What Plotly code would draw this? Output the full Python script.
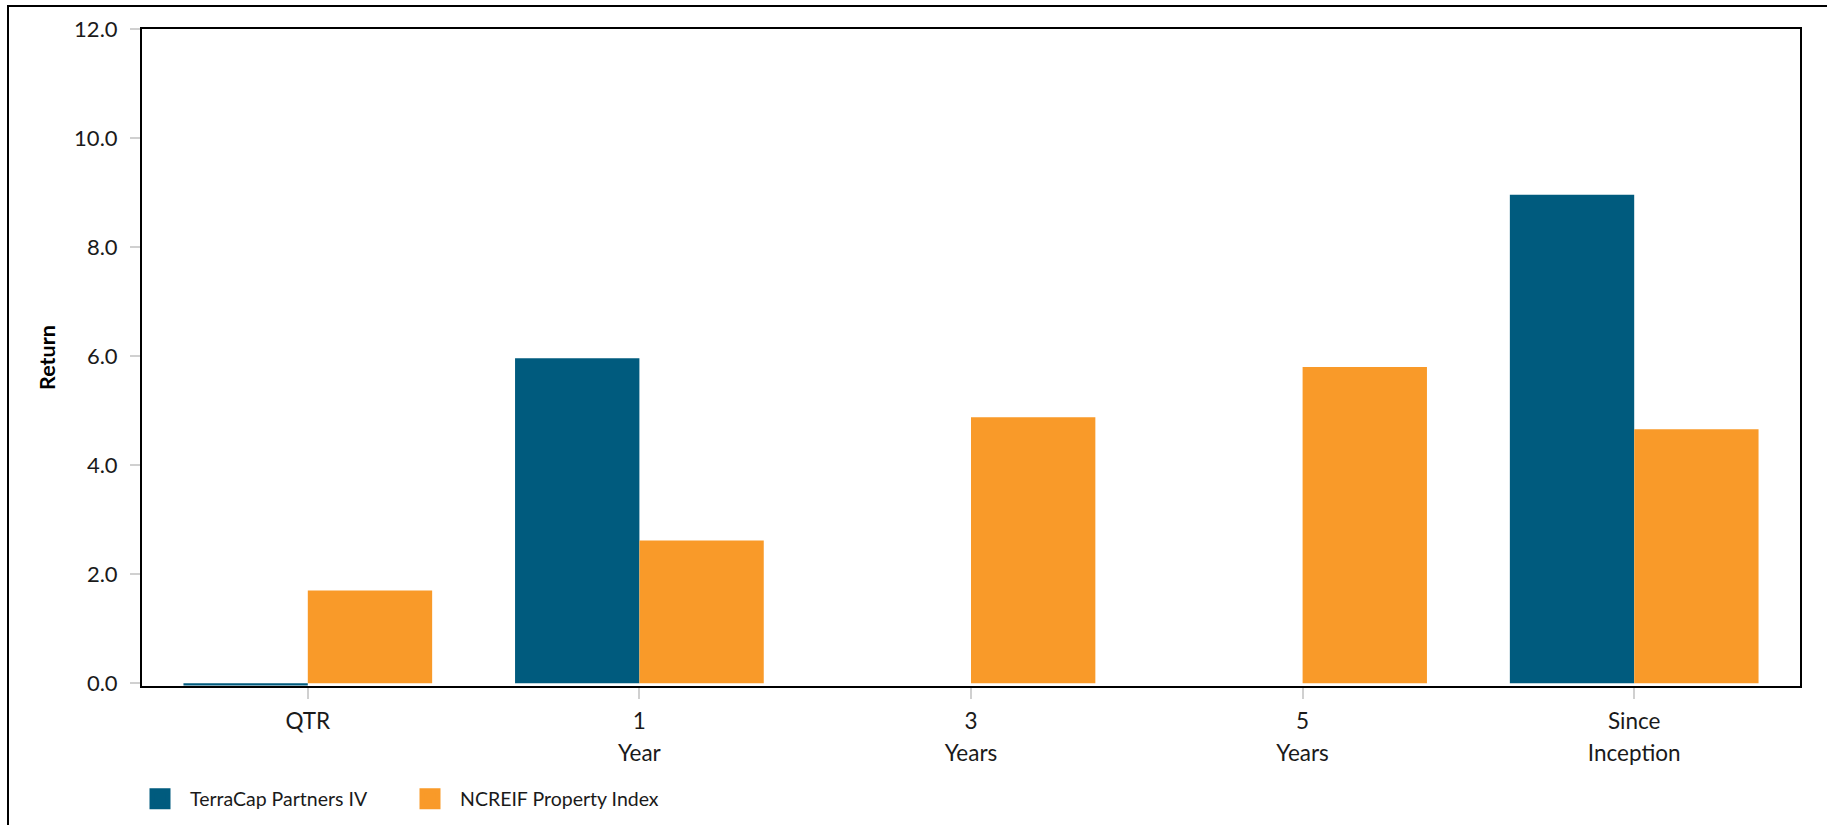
import plotly.graph_objects as go

categories = ["QTR", "1 Year", "3 Years", "5 Years", "Since Inception"]
tick_labels = ["QTR", "1<br>Year", "3<br>Years", "5<br>Years", "Since<br>Inception"]
terracap = [-0.04, 5.96, None, None, 8.96]
ncreif = [1.70, 2.62, 4.88, 5.80, 4.66]
series_names = ["TerraCap Partners IV", "NCREIF Property Index"]
colors = ["#005B7E", "#F99A29"]
y_ticks = [0, 2, 4, 6, 8, 10, 12]

FONT = "Lato"

def styled(label, size=22.5):
    return "<br>".join(f"<span style='font-size:{size}px'>{p}</span>" for p in label.split("<br>"))

fig = go.Figure()
for name, vals, col in zip(series_names, [terracap, ncreif], colors):
    fig.add_trace(go.Bar(x=categories, y=vals, name=name, marker=dict(color=col, line=dict(width=0)),
                         showlegend=False))
for name, col in zip(series_names, colors):
    fig.add_trace(go.Scatter(x=[None], y=[None], mode="markers", name=name,
                             marker=dict(symbol="square", size=16, color=col,
                                         line=dict(color=col, width=5))))

L, R, T, B = 142, 27, 29, 139
W, H = 1827, 825
pw, ph = W - L - R, H - T - B

fig.update_layout(
    width=W, height=H,
    margin=dict(l=L, r=R, t=T, b=B, pad=0, autoexpand=False),
    paper_bgcolor="white", plot_bgcolor="white",
    barmode="group", bargap=0.25, bargroupgap=0,
    font=dict(family=FONT, color="#1a1a1a"),
    showlegend=True,
    legend=dict(orientation="h", x=(130 - L) / pw, xanchor="left", y=(686 - 799) / ph, yanchor="middle",
                font=dict(size=19.5, family=FONT, color="#1a1a1a"),
                itemwidth=50, entrywidth=205, tracegroupgap=0, bgcolor="rgba(0,0,0,0)"),
    xaxis=dict(type="category", categoryorder="array", categoryarray=categories,
               tickvals=categories, ticktext=[styled(t) for t in tick_labels],
               tickfont=dict(size=24.6, family=FONT, color="#1a1a1a"),
               showline=True, linecolor="black", linewidth=2, mirror=True,
               ticks="outside", ticklen=11, tickcolor="#d0d0d0", tickwidth=2,
               showgrid=False, zeroline=False, automargin=False),
    yaxis=dict(range=[-0.05, 12], tickvals=y_ticks, tickformat=".1f",
               tickfont=dict(size=22, family=FONT, color="#1a1a1a"),
               showline=True, linecolor="black", linewidth=2, mirror=True,
               ticks="outside", ticklen=10, tickcolor="#d0d0d0", tickwidth=2,
               ticklabelstandoff=8, automargin=False,
               showgrid=False, zeroline=False,
               title=dict(text="<b>Return</b>", font=dict(size=21.5, family=FONT, color="#000"), standoff=13)),
    shapes=[dict(type="rect", xref="paper", yref="paper",
                 x0=(8 - L) / pw, x1=(W + 10 - L) / pw,
                 y0=(686 - (H + 10)) / ph, y1=(686 - 6) / ph,
                 line=dict(color="black", width=2), fillcolor="rgba(0,0,0,0)", layer="above")],
)

fig.write_html("out.html", config={"displayModeBar": False},
               post_script="document.body.style.margin='0px';document.body.style.overflow='hidden';")
